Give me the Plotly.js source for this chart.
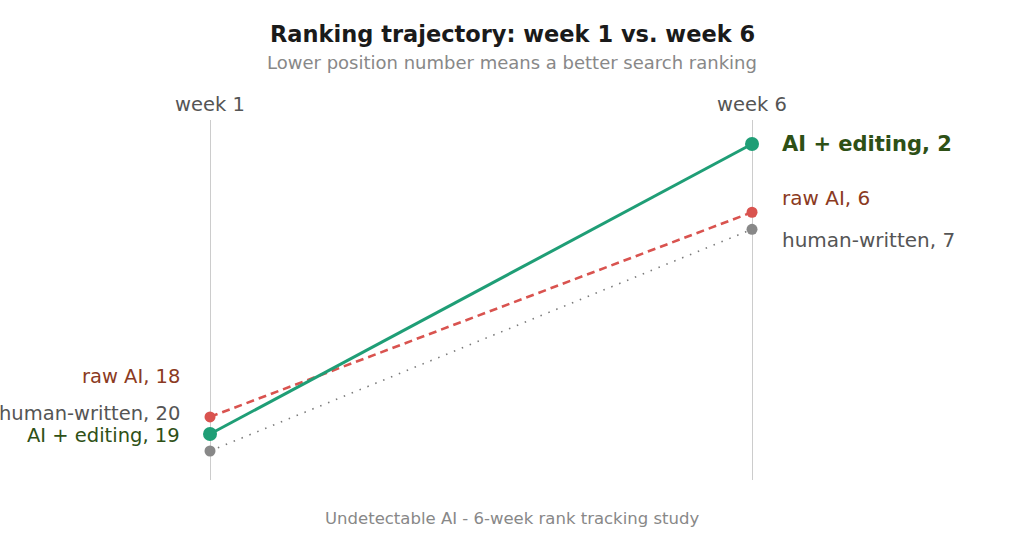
<!DOCTYPE html>
<html>
<head>
<meta charset="utf-8">
<script src="https://cdn.plot.ly/plotly-3.0.1.min.js"></script>
<style>
  html, body { margin: 0; padding: 0; background: #fff; }
  #chart { width: 1024px; height: 542px; }
</style>
</head>
<body>
<div id="chart"></div>
<script>
// weeks on the x axis
var weeks = [0, 1];
var weekLabels = ["week 1", "week 6"];

// ranking position per series, week 1 then week 6
var seriesNames = ["human-written", "raw AI", "AI + editing"];
var humanRank = [20, 7];
var rawRank = [18, 6];
var editRank = [19, 2];

var lineColors = ["#7a7a7a", "#d9534f", "#1f9e76"];
var markerColors = ["#888888", "#d9534f", "#1f9e76"];
var textColors = ["#555555", "#8b3a22", "#2e5016"];

var ranks = [humanRank, rawRank, editRank];
var dashes = ["1.5px,7px", "8px,5px", "solid"];
var widths = [1.6, 2.6, 3];
var sizes = [11, 11, 14];

var traces = [];
for (let i = 0; i < ranks.length; ++i) {
  traces.push({
    x: weeks, y: ranks[i], mode: "lines+markers", name: seriesNames[i],
    line: {color: lineColors[i], dash: dashes[i], width: widths[i]},
    marker: {color: markerColors[i], size: sizes[i]},
    hoverinfo: "skip"
  });
}

// labels are nudged apart so they don't overlap
var leftShift = [38, 40, -2];
var rightShift = [-11, 14, 0];
var ann = [];
for (let i = 0; i < ranks.length; ++i) {
  ann.push({x: weeks[0], y: ranks[i][0], xref: "x", yref: "y", xanchor: "right", yanchor: "middle",
    xshift: -28, yshift: leftShift[i], showarrow: false,
    text: seriesNames[i] + ", " + ranks[i][0],
    font: {family: "DejaVu Sans", size: 19.5, color: textColors[i]}});
  var txt = seriesNames[i] + ", " + ranks[i][1];
  if (i == 2) { txt = "<b>" + txt + "</b>"; }
  ann.push({x: weeks[1], y: ranks[i][1], xref: "x", yref: "y", xanchor: "left", yanchor: "middle",
    xshift: 28, yshift: rightShift[i], showarrow: false, text: txt,
    font: {family: "DejaVu Sans", size: i == 2 ? 21 : 20, color: textColors[i]}});
}
ann.push({x: 0.5, y: 1.239, xref: "paper", yref: "paper", xanchor: "center", yanchor: "middle",
  showarrow: false, text: "<b>Ranking trajectory: week 1 vs. week 6</b>",
  font: {family: "DejaVu Sans", size: 22.5, color: "#1a1a1a"}});
ann.push({x: 0.5, y: 1.161, xref: "paper", yref: "paper", xanchor: "center", yanchor: "middle",
  showarrow: false, text: "Lower position number means a better search ranking",
  font: {family: "DejaVu Sans", size: 18, color: "#888888"}});
ann.push({x: 0.5, y: -0.106, xref: "paper", yref: "paper", xanchor: "center", yanchor: "middle",
  showarrow: false, text: "Undetectable AI - 6-week rank tracking study",
  font: {family: "DejaVu Sans", size: 16.5, color: "#888888"}});

var layout = {
  width: 1024, height: 542,
  margin: {l: 0, r: 0, t: 120, b: 62},
  paper_bgcolor: "#ffffff", plot_bgcolor: "#ffffff",
  showlegend: false,
  xaxis: {range: [-0.3875, 1.5018], side: "top", tickvals: weeks, ticktext: weekLabels,
    showgrid: true, gridcolor: "#cccccc", gridwidth: 1, zeroline: false, showline: false,
    ticks: "", ticklabelstandoff: 4,
    tickfont: {family: "DejaVu Sans", size: 19.5, color: "#555555"}, fixedrange: true},
  yaxis: {range: [21.7, 0.59], visible: false, showgrid: false, zeroline: false, fixedrange: true},
  annotations: ann
};

Plotly.newPlot(document.getElementById("chart"), traces, layout, {displayModeBar: false, staticPlot: true});
</script>
</body>
</html>
